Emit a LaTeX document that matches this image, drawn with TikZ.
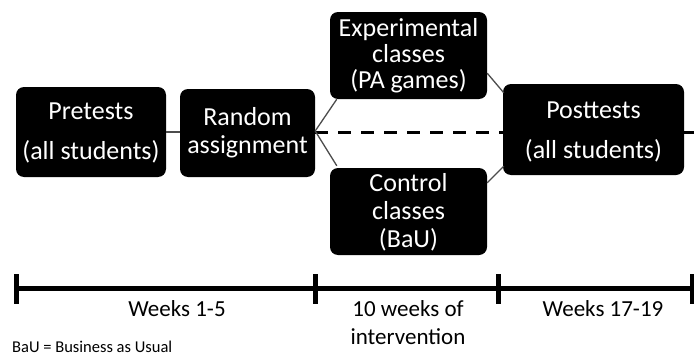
\documentclass[tikz,border=0pt]{standalone}
\usepackage{fontspec}
\setmainfont{Carlito}
\usetikzlibrary{calc}
\begin{document}
\begin{tikzpicture}[x=1pt,y=-1pt,
  box/.style={fill=black, text=white, rounded corners=8pt, inner sep=0pt, align=center},
  bigfont/.style={font=\fontsize{26}{40}\selectfont},
  midfont/.style={font=\fontsize{26}{28}\selectfont},
  conn/.style={draw=black!70, line width=1.3pt},
  split/.style={draw=black, line width=3pt, dash pattern=on 13pt off 10pt},
  timeline/.style={draw=black, line width=5pt},
  tickmark/.style={draw=black, line width=5pt},
  lab/.style={font=\fontsize{23}{28}\selectfont, align=center, inner sep=0pt}]
\useasboundingbox (0,0) rectangle (694,356);
% dashed split line (behind boxes)
\coordinate (dend) at (694,132);
\coordinate (dstart) at (315,132);
\draw[split] (dstart) -- (dend);
% boxes
\node[box, bigfont, minimum width=150pt, minimum height=90pt] (pre) at (91,132) {};
\node[text=white, bigfont, align=center, inner sep=0pt] (pretxt) at ($(pre.center)+(0,1)$) {Pretests\\(all students)};
\node[box, midfont, minimum width=135pt, minimum height=88pt] (rand) at (247.5,133) {Random\\assignment};
\node[box, font=\fontsize{26}{26}\selectfont, minimum width=157pt, minimum height=87pt] (exp) at (408.5,55.5) {Experimental\\classes\\(PA games)};
\node[box, midfont, minimum width=157pt, minimum height=87pt] (ctl) at (408.5,211.5) {};
\node[text=white, midfont, align=center, inner sep=0pt] (ctltxt) at ($(ctl.center)+(0,1)$) {Control\\classes\\(BaU)};
\node[box, bigfont, minimum width=181pt, minimum height=91pt] (post) at (593.5,129.5) {};
\node[text=white, bigfont, align=center, inner sep=0pt] (posttxt) at ($(post.center)+(0,2)$) {Posttests\\(all students)};
% connectors
\draw[conn] (pre.east) -- (rand.west |- pre.east);
\draw[conn] ($(rand.east)+(0,-2)$) -- ($(exp.south west)+(7,0)$);
\draw[conn] ($(rand.east)+(0,-2)$) -- ($(ctl.north west)+(7,-2)$);
\draw[conn] ($(exp.south east)+(0,-26)$) -- ($(post.north west)+(1,9)$);
\draw[conn] ($(ctl.north east)+(0,15)$) -- ($(post.south west)+(1,-9)$);
% timeline
\coordinate (t0) at (16,288);
\coordinate (t1) at (315,288);
\coordinate (t2) at (498,288);
\coordinate (t3) at (692,288);
\coordinate (tend) at (694,288);
\draw[timeline] ($(t0)+(-2,0)$) -- (tend);
\foreach \t in {t0,t1,t2,t3}{
  \draw[tickmark] ($(\t)+(0,-14)$) -- ($(\t)+(0,16)$);
}
\node[lab, anchor=base] (w1) at (177,316) {Weeks 1-5};
\node[lab, anchor=north] (w2) at (408,300) {10 weeks of\\intervention};
\node[lab, anchor=base] (w3) at (603,316) {Weeks 17-19};
\node[font=\fontsize{16.5}{18}\selectfont, anchor=base west, inner sep=0pt] (bau) at (12,352) {BaU = Business as Usual};
\end{tikzpicture}
\end{document}
